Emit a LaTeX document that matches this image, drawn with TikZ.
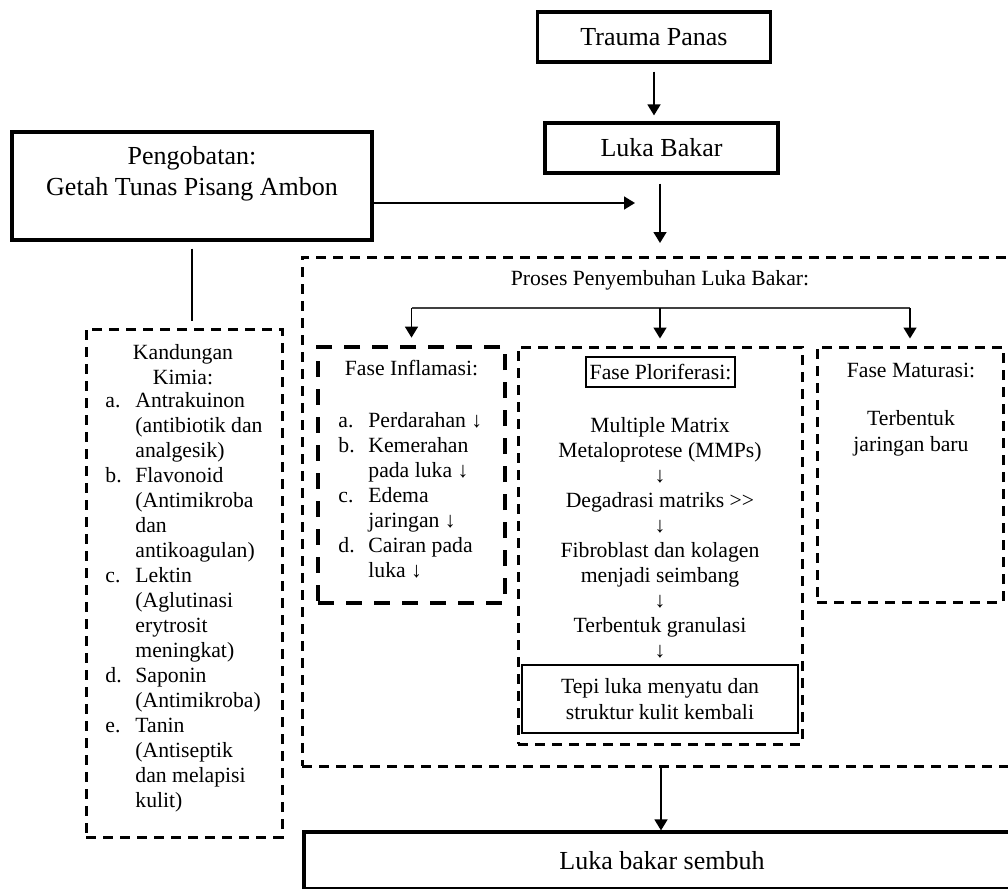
\documentclass[tikz,border=0pt]{standalone}
\usepackage{fontspec}
\setmainfont{Liberation Serif}
\usetikzlibrary{arrows.meta}

\newcommand{\bodyfont}{\fontsize{10.85}{12.5}\selectfont}
\newcommand{\bigfont}{\fontsize{13}{15.5}\selectfont}
\newcommand{\itm}[2]{\makebox[15pt][l]{#1}#2}
\newcommand{\cnt}[1]{\hspace*{15pt}#1}

\tikzset{
  solidbox/.style={draw, line width=1.6pt, inner sep=0pt},
  dashbox/.style={draw, line width=1.5pt, dash pattern=on 5pt off 3.5pt, inner sep=0pt},
  bolddash/.style={draw, line width=2.4pt, dash pattern=on 8pt off 6pt, inner sep=0pt},
  txt/.style={inner sep=0pt, font=\bodyfont, align=center},
  flow/.style={line width=0.8pt, -{Triangle[length=5.5pt,width=6.5pt]}},
}

\begin{document}
\begin{tikzpicture}[x=0.5pt, y=-0.5pt]
  \useasboundingbox (0,0) rectangle (1008,889);
  \clip (0,0) rectangle (1008,889);

  % Trauma -> luka bakar
  \node[solidbox, minimum width=116.5pt, minimum height=25pt, font=\bigfont] (trauma) at (654,37) {Trauma Panas};
  \node[solidbox, minimum width=116.5pt, minimum height=25pt, font=\bigfont] (luka) at (661.5,148) {Luka Bakar};
  \draw[flow, shorten <=4pt, shorten >=3pt] (trauma.south) -- (trauma.south |- luka.north);

  % Pengobatan
  \node[solidbox, minimum width=180pt, minimum height=54pt, font=\bigfont, align=center] (obat) at (192,186) {Pengobatan:\\Getah Tunas Pisang Ambon\\\mbox{}};
  \coordinate (join) at (635,203);
  \draw[flow] (obat.east |- join) -- (join);
  \coordinate (lukaend) at (660,243);
  \draw[flow, shorten <=4.5pt] (luka.south -| lukaend) -- (lukaend);

  % Proses penyembuhan
  \node[dashbox, minimum width=359pt, minimum height=254.5pt] (proses) at (661,511.5) {};
  \node[txt] (prosestitle) at (660,280) {Proses Penyembuhan Luka Bakar:};

  \node[bolddash, minimum width=93.5pt, minimum height=128pt] (infl) at (411.5,475) {};
  \node[dashbox, minimum width=142pt, minimum height=198.5pt] (plor) at (660,545.5) {};
  \node[dashbox, minimum width=93pt, minimum height=127.5pt] (mat) at (910,474.5) {};

  \coordinate (split) at (660,308);
  \draw[line width=0.9pt, black!75] (split -| infl.north) -- (split -| mat.north);
  \foreach \ph in {infl, plor, mat}
    \draw[flow, shorten >=3.5pt] (split -| \ph.north) -- (\ph.north);

  % Fase inflamasi
  \node[txt] (infltitle) at (411.5,368) {Fase Inflamasi:};
  \node[txt, align=left, anchor=west] (infllist) at (338,495) {\itm{a.}{Perdarahan ↓}\\
    \itm{b.}{Kemerahan}\\
    \cnt{pada luka ↓}\\
    \itm{c.}{Edema}\\
    \cnt{jaringan ↓}\\
    \itm{d.}{Cairan pada}\\
    \cnt{luka ↓}};

  % Fase ploriferasi
  \node[draw, line width=1.2pt, inner sep=0pt, minimum width=74.5pt, minimum height=15pt, font=\bodyfont] (plortitle) at (660.5,372) {Fase Ploriferasi:};
  \node[txt] (plorsteps) at (660,537.5) {Multiple Matrix\\Metaloprotese (MMPs)\\↓\\Degadrasi matriks >\kern0pt>\\↓\\Fibroblast dan kolagen\\menjadi seimbang\\↓\\Terbentuk granulasi\\↓};
  \node[solidbox, line width=1.3pt, minimum width=138pt, minimum height=34pt, font=\fontsize{10.85}{13}\selectfont, align=center] (tepi) at (660,699) {Tepi luka menyatu dan\\struktur kulit kembali};

  % Fase maturasi
  \node[txt] (mattitle) at (911,370) {Fase Maturasi:};
  \node[txt, font=\fontsize{10.85}{13}\selectfont] (matbody) at (911,433.5) {Terbentuk\\jaringan baru};

  % Kandungan kimia
  \node[dashbox, minimum width=98pt, minimum height=254pt] (kand) at (184,583) {};
  \draw[line width=0.6pt, shorten <=3.5pt, shorten >=3.5pt] (obat.south) -- (obat.south |- kand.north);
  \node[txt] (kandtitle) at (183,364.5) {Kandungan\\Kimia:};
  \node[txt, align=left, anchor=west] (kandlist) at (105,602) {\itm{a.}{Antrakuinon}\\
    \cnt{(antibiotik dan}\\
    \cnt{analgesik)}\\
    \itm{b.}{Flavonoid}\\
    \cnt{(Antimikroba}\\
    \cnt{dan}\\
    \cnt{antikoagulan)}\\
    \itm{c.}{Lektin}\\
    \cnt{(Aglutinasi}\\
    \cnt{erytrosit}\\
    \cnt{meningkat)}\\
    \itm{d.}{Saponin}\\
    \cnt{(Antimikroba)}\\
    \itm{e.}{Tanin}\\
    \cnt{(Antiseptik}\\
    \cnt{dan melapisi}\\
    \cnt{kulit)}};

  % Sembuh
  \node[solidbox, minimum width=358pt, minimum height=28.5pt, font=\bigfont] (sembuh) at (662,860.5) {Luka bakar sembuh};
  \draw[flow] (proses.south) -- (proses.south |- sembuh.north);
\end{tikzpicture}
\end{document}
